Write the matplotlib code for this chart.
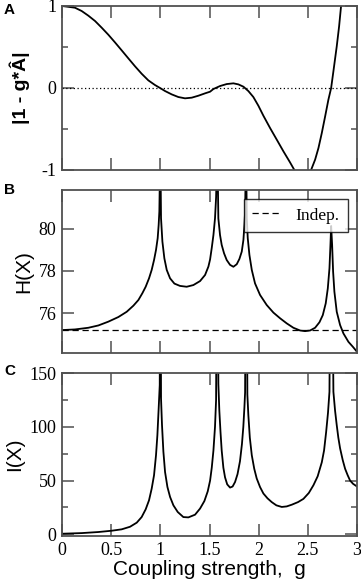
"""Three stacked panels vs coupling strength g: |1 - g*lambda|, H(X), I(X)."""
import matplotlib
matplotlib.use("Agg")
import matplotlib.pyplot as plt
from matplotlib.ticker import MultipleLocator, FuncFormatter

# ---------- data ----------

# panel A: |1 - g*lambda|
g_a = [0.0, 0.065, 0.132, 0.2, 0.268, 0.336, 0.404, 0.471, 0.539, 0.607,
       0.675, 0.743, 0.81, 0.878, 0.946, 0.997, 1.048, 1.116, 1.183, 1.251,
       1.319, 1.387, 1.455, 1.506, 1.539, 1.607, 1.675, 1.743, 1.794, 1.845,
       1.895, 1.946, 1.997, 2.048, 2.116, 2.184, 2.252, 2.319, 2.363, 2.40,
       2.45, 2.49, 2.533, 2.574, 2.608, 2.642, 2.676, 2.709, 2.737, 2.76,
       2.794, 2.818, 2.838]
y_a = [1.0, 0.99, 0.979, 0.939, 0.882, 0.817, 0.735, 0.65, 0.556, 0.459,
       0.361, 0.264, 0.174, 0.093, 0.036, 0.0, -0.037, -0.078, -0.11, -0.126,
       -0.118, -0.094, -0.065, -0.045, -0.013, 0.024, 0.048, 0.057, 0.044, 0.016,
       -0.037, -0.11, -0.216, -0.338, -0.488, -0.63, -0.773, -0.907, -1.0, -1.07,
       -1.11, -1.10, -1.0, -0.874, -0.732, -0.549, -0.346, -0.143, 0.0, 0.203,
       0.508, 0.752, 1.0]

# panel B: entropy H(X)
g_b = [0.0, 0.132, 0.268, 0.37, 0.471, 0.573, 0.658, 0.726, 0.777, 0.817,
       0.851, 0.885, 0.912, 0.936, 0.956, 0.973, 0.983, 0.99, 1.0, 1.007,
       1.021, 1.041, 1.065, 1.099, 1.143, 1.2, 1.268, 1.336, 1.404, 1.455,
       1.489, 1.506, 1.523, 1.54, 1.556, 1.567, 1.58, 1.59, 1.607, 1.624,
       1.648, 1.675, 1.709, 1.743, 1.777, 1.804, 1.828, 1.845, 1.855, 1.862,
       1.872, 1.879, 1.889, 1.906, 1.93, 1.963, 2.014, 2.082, 2.15, 2.218,
       2.285, 2.353, 2.421, 2.472, 2.523, 2.574, 2.618, 2.652, 2.682, 2.703,
       2.72, 2.73, 2.737, 2.747, 2.757, 2.77, 2.794, 2.828, 2.862, 2.913,
       2.957, 2.991, 3.0]
h_b = [75.19, 75.22, 75.30, 75.41, 75.59, 75.81, 76.06, 76.35, 76.62, 76.94,
       77.25, 77.65, 78.05, 78.52, 79.0, 79.56, 80.19, 80.83, 84.0, 80.51,
       79.40, 78.60, 78.05, 77.65, 77.40, 77.29, 77.25, 77.33, 77.52, 77.81,
       78.21, 78.55, 79.1, 79.71, 80.5, 81.5, 84.0, 80.5, 79.71, 79.24,
       78.84, 78.52, 78.29, 78.2, 78.32, 78.57, 78.92, 79.48, 80.19, 80.83,
       84.0, 80.51, 79.56, 78.76, 78.05, 77.41, 76.86, 76.38, 76.02, 75.75,
       75.51, 75.3, 75.17, 75.14, 75.17, 75.3, 75.56, 75.9, 76.46, 77.17,
       78.13, 79.24, 80.14, 79.24, 77.97, 77.02, 76.06, 75.43, 75.03, 74.63,
       74.40, 74.21, 74.15]
H_INDEP = 75.17

# panel C: mutual information I(X)
g_c = [0.0, 0.2, 0.37, 0.505, 0.607, 0.692, 0.76, 0.81, 0.851, 0.885,
       0.912, 0.936, 0.956, 0.97, 0.983, 0.994, 1.0, 1.007, 1.017, 1.031,
       1.048, 1.072, 1.099, 1.133, 1.177, 1.234, 1.285, 1.353, 1.404, 1.448,
       1.482, 1.506, 1.523, 1.54, 1.556, 1.567, 1.58, 1.59, 1.6, 1.612,
       1.624, 1.641, 1.658, 1.68, 1.709, 1.735, 1.76, 1.785, 1.81, 1.83,
       1.844, 1.855, 1.862, 1.875, 1.885, 1.895, 1.91, 1.93, 1.955, 1.98,
       2.014, 2.048, 2.09, 2.133, 2.18, 2.235, 2.285, 2.337, 2.4, 2.455,
       2.51, 2.557, 2.6, 2.642, 2.665, 2.686, 2.705, 2.72, 2.737, 2.76,
       2.777, 2.794, 2.81, 2.828, 2.855, 2.879, 2.905, 2.93, 2.96, 3.0]
i_c = [0.6, 1.2, 2.2, 3.4, 4.7, 7.1, 10.9, 16.1, 23.3, 31.7,
       42.5, 55, 73.6, 92.2, 117, 138.8, 400, 126.4, 101.6, 77,
       58, 44.1, 34.8, 27, 20.8, 16.1, 15.8, 18.3, 24, 31,
       40, 50, 62, 78, 100, 125, 400, 140, 115, 95,
       78, 62, 53, 46.5, 43.5, 44.5, 48.7, 56, 68, 84,
       100, 118, 132, 400, 130, 111, 90, 73.6, 61, 52,
       44, 38, 33.5, 30, 27, 25.5, 26, 27.6, 30, 33,
       38.5, 45.7, 54, 67, 78, 95, 113, 132.6, 400, 132.6,
       115, 101.5, 90, 80, 69, 61, 55, 50, 47, 44.5]

# ---------- styling ----------

SERIF = "Liberation Serif"
SANS = "Liberation Sans"
FRAME = "#505050"

plt.rcParams["font.family"] = SANS
plt.rcParams["axes.unicode_minus"] = False

plain = FuncFormatter(lambda v, pos: f"{v:g}")


def style_axes(ax):
    for sp in ax.spines.values():
        sp.set_color(FRAME)
        sp.set_linewidth(1.3)
    ax.tick_params(which="both", direction="in", top=True, right=True,
                   color=FRAME, width=1.1, labelsize=13, pad=4)
    ax.tick_params(which="major", length=8.5)
    ax.tick_params(which="minor", length=4.3)
    ax.set_xlim(0, 3)
    ax.xaxis.set_major_locator(MultipleLocator(0.5))
    ax.xaxis.set_major_formatter(plain)
    ax.yaxis.set_major_formatter(plain)


def serif_ticks(ax):
    for lab in ax.get_xticklabels() + ax.get_yticklabels():
        lab.set_fontfamily(SERIF)


def main():
    fig = plt.figure(figsize=(3.61, 5.85), dpi=100)
    left, width = 62 / 361, 295 / 361

    def box(top_px, bot_px):
        return [left, 1 - bot_px / 585, width, (bot_px - top_px) / 585]

    ax_a = fig.add_axes(box(6, 170))
    ax_b = fig.add_axes(box(190, 353))
    ax_c = fig.add_axes(box(373, 536))
    for ax in (ax_a, ax_b, ax_c):
        style_axes(ax)

    # A
    ax_a.plot(g_a, y_a, color="black", lw=1.3)
    ax_a.axhline(0, color="black", lw=0.9, ls=(0, (1, 2)))
    ax_a.set_ylim(-1, 1)
    ax_a.yaxis.set_major_locator(MultipleLocator(1))
    ax_a.yaxis.set_minor_locator(MultipleLocator(0.5))
    ax_a.set_ylabel("|1 - g*Â|", fontsize=14, fontweight="bold", labelpad=8)

    # B
    ax_b.plot(g_b, h_b, color="black", lw=1.3)
    ax_b.axhline(H_INDEP, color="black", lw=0.9, ls=(0, (5, 3)), label="Indep.")
    ax_b.set_ylim(74.1, 81.85)
    ax_b.yaxis.set_major_locator(MultipleLocator(2))
    ax_b.set_ylabel("H(X)", fontsize=15, labelpad=4)
    leg = ax_b.legend(loc="upper right", prop={"family": SERIF, "size": 12.5},
                      frameon=True, fancybox=False, handlelength=1.6,
                      handletextpad=0.9, borderaxespad=0.5, borderpad=0.5)
    leg.get_frame().set_edgecolor("black")
    leg.get_frame().set_linewidth(1.0)

    # C
    ax_c.plot(g_c, i_c, color="black", lw=1.3)
    ax_c.set_ylim(-1.5, 150)
    ax_c.yaxis.set_major_locator(MultipleLocator(50))
    ax_c.yaxis.set_minor_locator(MultipleLocator(25))
    ax_c.set_ylabel("I(X)", fontsize=15, labelpad=4)
    ax_c.set_xlabel("Coupling strength,  g", fontsize=15, labelpad=1)

    ax_a.tick_params(labelbottom=False)
    ax_b.tick_params(labelbottom=False)
    for ax in (ax_a, ax_b, ax_c):
        serif_ticks(ax)

    for letter, ypx in (("A", 10), ("B", 190), ("C", 371)):
        fig.text(4 / 361, 1 - ypx / 585, letter, fontsize=11, fontweight="bold",
                 va="center", ha="left")

    fig.savefig("out.png", dpi=100)
    plt.close(fig)


if __name__ == "__main__":
    main()
